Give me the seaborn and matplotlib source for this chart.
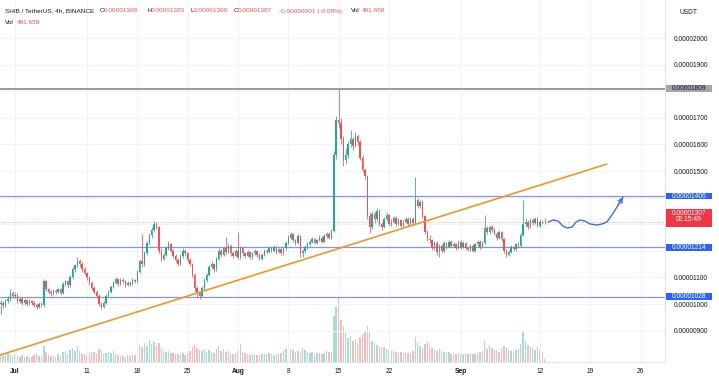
import numpy as np
import pandas as pd
import seaborn as sns
import matplotlib.pyplot as plt
import matplotlib.dates as mdates
from matplotlib.patches import Rectangle
from matplotlib.transforms import blended_transform_factory

# prices in units of 1e-8 USDT (1307 -> 0.00001307), 8h bars from 2023-06-29
first_open = 1000
close_e8 = [
    1005, 995, 1010, 1020, 1040, 1030, 1035, 1010, 1020, 1005, 1015, 1000,
    1010, 1005, 998, 990, 1000, 995, 1085, 1055, 1045, 1040, 1050, 1045,
    1055, 1040, 1075, 1085, 1070, 1100, 1130, 1145, 1160, 1150, 1130, 1115,
    1100, 1080, 1060, 1045, 1030, 1000, 990, 1005, 1030, 1045, 1065, 1080,
    1095, 1075, 1090, 1085, 1070, 1080, 1075, 1090, 1085, 1120, 1160, 1150,
    1190, 1230, 1260, 1280, 1300, 1290, 1200, 1170, 1185, 1210, 1225, 1200,
    1180, 1165, 1150, 1180, 1200, 1190, 1165, 1150, 1110, 1060, 1040, 1030,
    1060, 1090, 1110, 1140, 1150, 1130, 1170, 1200, 1185, 1210, 1195, 1220,
    1190, 1180, 1200, 1175, 1210, 1190, 1180, 1195, 1175, 1190, 1200, 1185,
    1170, 1185, 1200, 1195, 1210, 1200, 1215, 1195, 1205, 1190, 1210, 1230,
    1250, 1265, 1240, 1230, 1255, 1190, 1200, 1215, 1225, 1235, 1245, 1230,
    1240, 1250, 1235, 1255, 1265, 1250, 1275, 1560, 1690, 1680, 1620, 1540,
    1560, 1600, 1620, 1595, 1630, 1610, 1550, 1505, 1480, 1330, 1290, 1340,
    1320, 1350, 1300, 1290, 1320, 1335, 1300, 1310, 1325, 1300, 1315, 1295,
    1310, 1320, 1300, 1320, 1305, 1390, 1370, 1385, 1330, 1270, 1245, 1240,
    1210, 1230, 1195, 1220, 1200, 1230, 1215, 1235, 1220, 1225, 1210, 1235,
    1215, 1230, 1210, 1205, 1220, 1200, 1225, 1235, 1215, 1230, 1285, 1270,
    1290, 1280, 1265, 1250, 1270, 1245, 1200, 1185, 1195, 1215, 1205, 1225,
    1220, 1260, 1300, 1310, 1290, 1315, 1305, 1320, 1295, 1310, 1308, 1307,
]
high_e8 = [
    1015, 1012, 1018, 1030, 1055, 1048, 1045, 1040, 1028, 1025, 1022, 1020,
    1018, 1015, 1010, 1002, 1008, 1006, 1095, 1090, 1062, 1052, 1058, 1055,
    1062, 1060, 1082, 1092, 1090, 1108, 1138, 1152, 1175, 1168, 1158, 1138,
    1122, 1105, 1088, 1068, 1052, 1036, 1008, 1012, 1036, 1052, 1072, 1088,
    1102, 1098, 1096, 1096, 1090, 1086, 1086, 1096, 1094, 1128, 1168, 1262,
    1198, 1238, 1268, 1288, 1312, 1308, 1295, 1210, 1192, 1218, 1238, 1230,
    1206, 1188, 1172, 1188, 1210, 1206, 1195, 1172, 1156, 1115, 1066, 1048,
    1068, 1096, 1118, 1148, 1162, 1156, 1178, 1210, 1206, 1216, 1252, 1228,
    1226, 1198, 1208, 1272, 1218, 1215, 1196, 1202, 1198, 1196, 1208, 1204,
    1190, 1192, 1206, 1206, 1218, 1214, 1222, 1218, 1210, 1210, 1216, 1238,
    1258, 1272, 1268, 1246, 1262, 1258, 1208, 1222, 1232, 1242, 1252, 1250,
    1246, 1258, 1254, 1262, 1272, 1270, 1282, 1575, 1705, 1809, 1700, 1630,
    1585, 1612, 1655, 1628, 1645, 1638, 1615, 1560, 1512, 1485, 1345, 1350,
    1348, 1362, 1356, 1310, 1328, 1345, 1340, 1318, 1332, 1330, 1322, 1320,
    1316, 1328, 1326, 1328, 1326, 1478, 1398, 1392, 1390, 1336, 1280, 1258,
    1246, 1238, 1236, 1226, 1224, 1236, 1234, 1242, 1240, 1232, 1230, 1242,
    1240, 1236, 1234, 1216, 1226, 1224, 1230, 1242, 1240, 1236, 1335, 1292,
    1298, 1296, 1286, 1270, 1278, 1276, 1250, 1208, 1202, 1222, 1220, 1230,
    1232, 1266, 1390, 1325, 1316, 1322, 1322, 1328, 1326, 1318, 1316, 1323,
]
low_e8 = [
    962, 985, 990, 1002, 1012, 1022, 1022, 1002, 1004, 998, 998, 993,
    995, 997, 990, 983, 985, 988, 990, 1048, 1038, 1032, 1035, 1038,
    1040, 1033, 1036, 1068, 1062, 1065, 1095, 1122, 1138, 1140, 1122, 1108,
    1092, 1072, 1052, 1038, 1022, 992, 982, 985, 1000, 1025, 1040, 1060,
    1075, 1068, 1070, 1078, 1064, 1066, 1068, 1072, 1078, 1080, 1115, 1140,
    1142, 1185, 1222, 1250, 1272, 1282, 1192, 1162, 1165, 1180, 1202, 1194,
    1172, 1158, 1142, 1145, 1172, 1182, 1158, 1142, 1102, 1050, 1022, 1018,
    1025, 1052, 1084, 1104, 1132, 1122, 1126, 1164, 1178, 1180, 1188, 1190,
    1182, 1172, 1175, 1168, 1170, 1182, 1172, 1176, 1168, 1170, 1184, 1178,
    1164, 1166, 1180, 1188, 1190, 1194, 1196, 1188, 1190, 1184, 1186, 1204,
    1226, 1244, 1234, 1222, 1226, 1178, 1176, 1192, 1208, 1220, 1228, 1224,
    1226, 1236, 1230, 1232, 1250, 1244, 1246, 1270, 1545, 1660, 1600, 1520,
    1525, 1548, 1590, 1580, 1590, 1598, 1540, 1495, 1470, 1320, 1268, 1282,
    1305, 1312, 1292, 1280, 1285, 1312, 1292, 1294, 1304, 1294, 1296, 1288,
    1290, 1304, 1294, 1296, 1298, 1300, 1360, 1362, 1322, 1262, 1236, 1230,
    1202, 1204, 1186, 1176, 1192, 1196, 1208, 1210, 1214, 1214, 1204, 1206,
    1208, 1210, 1204, 1198, 1200, 1194, 1196, 1220, 1208, 1210, 1226, 1262,
    1262, 1270, 1258, 1242, 1246, 1238, 1192, 1175, 1180, 1190, 1198, 1200,
    1212, 1216, 1254, 1292, 1282, 1286, 1296, 1300, 1288, 1290, 1300, 1300,
]
# volume per bar, billions SHIB
volume_b = [
    2200, 1800, 2600, 3000, 2100, 1700, 2400, 1900, 1600, 2000, 1500, 1800,
    1600, 1400, 2100, 2500, 1800, 1700, 4800, 3200, 2200, 1900, 1700, 1500,
    2300, 1800, 3100, 3300, 2500, 3600, 4200, 3500, 4800, 3300, 2400, 2600,
    2200, 2800, 3200, 3000, 2600, 3900, 3600, 2600, 2900, 3100, 2700, 3400,
    2600, 2100, 1900, 1800, 1600, 2000, 1900, 2200, 2000, 3800, 5200, 4600,
    5800, 4900, 6800, 5400, 6200, 4800, 5900, 4200, 3300, 3000, 3400, 2800,
    2900, 2500, 2600, 2400, 2700, 2200, 2800, 3300, 4500, 5200, 4400, 3600,
    3400, 3900, 3200, 3600, 3000, 2700, 4100, 5000, 3500, 3900, 3100, 3300,
    2600, 2400, 2900, 3400, 5500, 3000, 2700, 2400, 2200, 2300, 2000, 2100,
    2200, 2500, 2400, 2600, 2900, 2300, 2100, 2400, 2600, 2800, 3400, 3900,
    4600, 4100, 3600, 3000, 3500, 2900, 4200, 3600, 3100, 2900, 3100, 2600,
    2700, 2900, 2500, 2800, 3300, 3000, 3200, 14000, 17000, 20000, 13000, 11000,
    9000, 7500, 8000, 6500, 7000, 5800, 7800, 8500, 9600, 11000, 9200, 6500,
    5800, 5200, 4600, 4200, 4500, 3900, 3600, 3300, 3500, 3100, 2900, 3000,
    2900, 3100, 2700, 2800, 3300, 7800, 6200, 4800, 4400, 5600, 6100, 5200,
    4300, 3800, 3500, 3900, 3300, 3100, 2800, 3000, 2600, 2700, 2500, 2900,
    2600, 2400, 2300, 2500, 2700, 2400, 2600, 2900, 3100, 3400, 6300, 3900,
    5200, 4300, 3800, 3600, 3200, 4100, 5000, 4400, 3700, 3400, 3100, 3600,
    3900, 5600, 9500, 6400, 5100, 4700, 4200, 3800, 4500, 3600, 3100, 980,
]

# drawn levels (1e-8 USDT)
levels_blue = [1406, 1214, 1028]
level_gray = 1809
last_price = 1307
countdown = "02:15:49"

# scale ticks; the ones sitting under a price tag carry no label
y_ticks = [900, 1000, 1100, 1200, 1300, 1400, 1500, 1600, 1700, 1800, 1900, 2000]
y_hidden = [1200, 1300, 1400, 1800]

# trend line and projected path: days after 2023-07-01, price 1e-8
trend_days = [-2.09, 82.3]
trend_price = [808, 1526]
proj_days = [74.13, 74.83, 75.52, 76.22, 76.77, 77.47, 78.03, 78.58, 79.28,
             79.97, 80.95, 81.64, 82.32, 83.02, 83.82, 84.56]
proj_price = [1308, 1316, 1312, 1293, 1286, 1289, 1308, 1316, 1312,
              1301, 1297, 1301, 1308, 1335, 1369, 1402]

x_ticks = ["2023-07-01", "2023-07-11", "2023-07-18", "2023-07-25", "2023-08-01",
           "2023-08-08", "2023-08-15", "2023-08-22", "2023-09-01", "2023-09-12",
           "2023-09-19", "2023-09-26"]
x_labels = ["Jul", "11", "18", "25", "Aug", "8", "15", "22", "Sep", "12", "19", "26"]

UP, DOWN = "#26a69a", "#ef5350"
TXT = "#131722"

sns.set_style("white")
plt.rcParams["font.family"] = ["Liberation Sans", "DejaVu Sans"]

fig = plt.figure(figsize=(7.19, 3.78), dpi=100)
rect = [0, 16 / 378, 665 / 719, 362 / 378]
ax_vol = fig.add_axes(rect, zorder=0)
ax = fig.add_axes(rect, zorder=1)
ax.patch.set_alpha(0)

base = pd.Timestamp("2023-07-01")
times = pd.date_range("2023-06-29", periods=len(close_e8), freq="8h")
tnum = mdates.date2num(times)
c = np.array(close_e8, dtype=float)
o = np.concatenate([[first_open], c[:-1]])
h = np.array(high_e8, dtype=float)
l = np.array(low_e8, dtype=float)
colors = np.where(c >= o, UP, DOWN)

x_left = mdates.date2num(base + pd.Timedelta(days=-2.09))
x_right = mdates.date2num(base + pd.Timedelta(days=90.4))

# volume
ax_vol.bar(tnum, volume_b, width=0.2, color=colors, alpha=0.4, linewidth=0)
ax_vol.set_xlim(x_left, x_right)
ax_vol.set_ylim(0, 111000)
ax_vol.axis("off")

# grid
for t in x_ticks:
    ax.axvline(mdates.date2num(pd.Timestamp(t)), color="#f0f3fa", lw=0.8, zorder=0)
for v in y_ticks:
    ax.axhline(v, color="#f0f3fa", lw=0.8, zorder=0)

# candles
ax.vlines(tnum, l, h, colors=colors, lw=0.55, zorder=2)
body = np.maximum(np.abs(c - o), 2)
ax.bar(tnum, body, bottom=np.minimum(o, c), width=0.2, color=colors, linewidth=0, zorder=2)

# levels
for v in levels_blue:
    ax.axhline(v, color="#8595e6", lw=0.9, zorder=1)
ax.axhline(level_gray, color="#9a9a9a", lw=1.4, zorder=1)
ax.axhline(last_price, color="#f23645", lw=0.6, ls=(0, (1, 2)), alpha=0.6, zorder=1)

# trend line and projected path
trend_df = pd.DataFrame({"t": mdates.date2num([base + pd.Timedelta(days=d) for d in trend_days]),
                         "p": trend_price})
sns.lineplot(data=trend_df, x="t", y="p", ax=ax, color="#f0962a", lw=1.2, zorder=3)
proj_df = pd.DataFrame({"t": mdates.date2num([base + pd.Timedelta(days=d) for d in proj_days]),
                        "p": proj_price})
sns.lineplot(data=proj_df, x="t", y="p", ax=ax, color="#3f6fd8", lw=1.0, zorder=3)
ax.annotate("", xy=(proj_df.t.iloc[-1], proj_df.p.iloc[-1]),
            xytext=(proj_df.t.iloc[-2], proj_df.p.iloc[-2]),
            arrowprops=dict(arrowstyle="->", color="#3f6fd8", lw=1.0,
                            mutation_scale=8, shrinkA=0, shrinkB=0), zorder=3)

ax.set_xlim(x_left, x_right)
ax.set_ylim(782, 2143)
ax.set_xlabel("")
ax.set_ylabel("")

ax.yaxis.tick_right()
ax.set_yticks(y_ticks)
ax.set_yticklabels(["" if v in y_hidden else f"{v / 1e8:.8f}" for v in y_ticks])
ax.set_xticks(mdates.date2num(pd.to_datetime(x_ticks)))
ax.set_xticklabels(x_labels)
for lab in ax.get_xticklabels():
    if lab.get_text() in ("Jul", "Aug", "Sep"):
        lab.set_fontweight("bold")
ax.tick_params(axis="both", length=0, labelsize=4.8, colors=TXT)
ax.tick_params(axis="y", pad=6)
ax.tick_params(axis="x", pad=4)
for s in ("top", "left"):
    ax.spines[s].set_visible(False)
for s in ("right", "bottom"):
    ax.spines[s].set_color("#e0e3eb")
    ax.spines[s].set_linewidth(0.8)

# price tags on the scale
tr = blended_transform_factory(ax.transAxes, ax.transData)
box_x0, box_w = 1 + 1 / 665, 46 / 665


def price_tag(v, face, fg, height=26):
    ax.add_patch(Rectangle((box_x0, v - height / 2), box_w, height, transform=tr,
                           facecolor=face, edgecolor="none", clip_on=False, zorder=5))
    ax.text(box_x0 + box_w / 2, v, f"{v / 1e8:.8f}", transform=tr, ha="center",
            va="center", fontsize=4.8, color=fg, clip_on=False, zorder=6)


price_tag(level_gray, "#a3a6af", TXT)
for v in levels_blue:
    price_tag(v, "#2962ff", "white")
ax.add_patch(Rectangle((box_x0, 1289), box_w, 68, transform=tr, facecolor="#f23645",
                       edgecolor="none", clip_on=False, zorder=5))
ax.text(box_x0 + box_w / 2, 1342, f"{last_price / 1e8:.8f}", transform=tr, ha="center",
        va="center", fontsize=4.8, color="white", clip_on=False, zorder=6)
ax.text(box_x0 + box_w / 2, 1316, countdown, transform=tr, ha="center",
        va="center", fontsize=4.8, color="white", clip_on=False, zorder=6)

fig.text(680 / 719, 1 - 12 / 378, "USDT", fontsize=4.8, color=TXT, va="center")

# header legend
y1, y2 = 1 - 11 / 378, 1 - 22 / 378
hdr = [(5, "SHIB / TetherUS, 4h, BINANCE", TXT),
       (100, "O", TXT), (103.5, "0.00001308", DOWN),
       (147, "H", TXT), (151, "0.00001323", DOWN),
       (190.5, "L", TXT), (194, "0.00001300", DOWN),
       (233.5, "C", TXT), (237.5, "0.00001307", DOWN),
       (279, "-0.00000001 (-0.08%)", DOWN),
       (351, "Vol", TXT), (362, "491.658", DOWN)]
for xp, s, col in hdr:
    fig.text(xp / 719, y1, s, fontsize=4.6, color=col, va="center")
fig.text(5 / 719, y2, "Vol", fontsize=4.6, color=TXT, va="center")
fig.text(17 / 719, y2, "491.658", fontsize=4.6, color=DOWN, va="center")

fig.savefig("out.png", dpi=100)
